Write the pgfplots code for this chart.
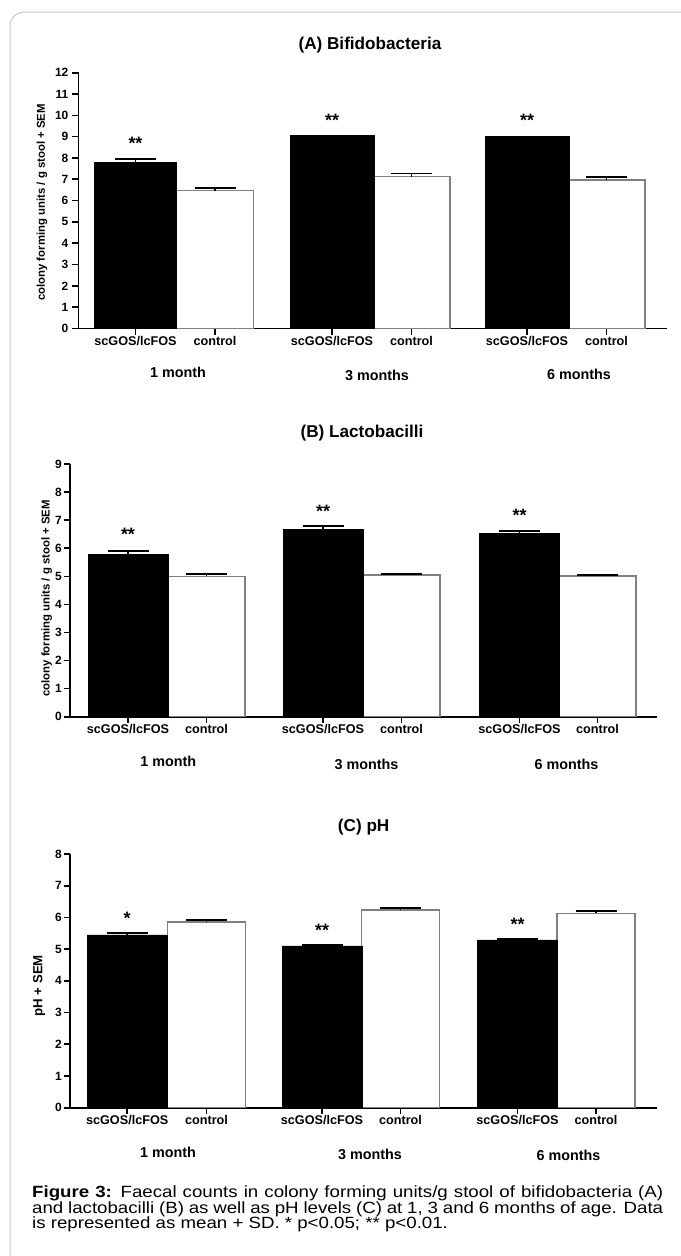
\documentclass[border=0pt]{standalone}
\usepackage{fontspec}
\setmainfont{Liberation Sans}
\newfontfamily\capfont[FakeStretch=1.15]{Liberation Sans}
\usepackage{pgfplots}
\pgfplotsset{compat=1.18}
\definecolor{barline}{RGB}{128,128,128}
\definecolor{frame}{RGB}{200,200,200}
\pgfplotsset{
  panel/.style={
    scale only axis, clip=false, enlargelimits=false,
    axis x line*=bottom, axis y line*=left,
    axis line style={line width=1.8bp, black, -},
    every outer x axis line/.append style={-},
    every outer y axis line/.append style={-},
    tick align=outside, major tick length=6bp,
    tick style={line width=1.6bp, black},
    ymin=0, anchor=south west,
    /pgf/number format/assume math mode=true,
    yticklabel={\textbf{\pgfmathprintnumber{\tick}}},
    yticklabel style={font=\fontsize{12}{12}\selectfont\bfseries, anchor=east, inner sep=0pt},
    xticklabel style={font=\fontsize{12.7}{12.7}\selectfont\bfseries, anchor=base, inner sep=0pt},
    ylabel style={anchor=center, inner sep=0pt},
    title style={anchor=base, inner sep=0pt, font=\fontsize{17.2}{17.2}\selectfont\bfseries},
  },
  errs/.style={
    error bars/y dir=plus, error bars/y explicit,
    error bars/error bar style={line width=1.8bp, black},
    error bars/error mark=|,
    error bars/error mark options={black, mark size=20.5bp, line width=1.8bp}},
  wbar/.style={ybar, bar shift=0pt, bar width=77, fill=white, draw=barline, line width=1.5bp, errs},
  bfill/.style={ybar, bar shift=0pt, bar width=82, fill=black, draw=black, line width=0.5bp},
  bbar/.style={bfill, errs},
}
\newcommand{\grp}{\fontsize{14.4}{14.4}\selectfont\bfseries}
\newcommand{\stars}{\fontsize{18}{18}\selectfont\bfseries}
\begin{document}
\begin{tikzpicture}
\useasboundingbox (0,0) rectangle (681bp,-1256bp);
\draw[frame, line width=1bp, rounded corners=14bp] (10bp,-1256bp) -- (10bp,-12bp) -- (681bp,-12bp);

% ---------- Panel A ----------
\begin{axis}[panel, at={(78.5bp,-328.5bp)}, width=588.5bp, height=255.8bp,
  xmin=78.5, xmax=667, ymax=12, ytick={0,1,...,12},
  yticklabel style={xshift=-4bp},
  xtick={135.5,215,332,411.5,527,606.5},
  xticklabels={scGOS/lcFOS,control,scGOS/lcFOS,control,scGOS/lcFOS,control},
  xticklabel style={yshift=-11bp},
  ylabel={\fontsize{11.4}{11.4}\selectfont\bfseries colony forming units / g stool + SEM},
  ylabel style={at={(axis description cs:-0.062,0.4926)}},
  title={(A) Bifidobacteria},
  title style={at={(axis description cs:0.4953,1.069)}}]
\addplot[wbar] coordinates {(215,6.47) +- (0,0.14) (411.5,7.13) +- (0,0.14) (606.5,6.96) +- (0,0.14)};
\addplot[bbar] coordinates {(135.5,7.80) +- (0,0.17)};
\addplot[bfill, bar width=84] coordinates {(332,9.07) (527,9.00)};
\node[font=\stars, yshift=-3.9bp] at (axis cs:135.5,8.85) {**};
\node[font=\stars, yshift=-3.9bp] at (axis cs:332,9.94) {**};
\node[font=\stars, yshift=-3.9bp] at (axis cs:527,9.94) {**};
\node[font=\grp, anchor=base, yshift=-48.5bp] at (axis cs:178,0) {1 month};
\node[font=\grp, anchor=base, yshift=-51.5bp] at (axis cs:377,0) {3 months};
\node[font=\grp, anchor=base, yshift=-50.5bp] at (axis cs:579,0) {6 months};
\end{axis}

% ---------- Panel B ----------
\begin{axis}[panel, at={(70bp,-716.7bp)}, width=587bp, height=252.7bp,
  xmin=70, xmax=657, ymax=9, ytick={0,1,...,9},
  yticklabel style={xshift=-2bp},
  xtick={128,206.5,323,401.5,519.5,597.5},
  xticklabels={scGOS/lcFOS,control,scGOS/lcFOS,control,scGOS/lcFOS,control},
  xticklabel style={yshift=-11bp},
  ylabel={\fontsize{11.4}{11.4}\selectfont\bfseries colony forming units / g stool + SEM},
  ylabel style={at={(axis description cs:-0.0397,0.4686)}},
  title={(B) Lactobacilli},
  title style={at={(axis description cs:0.4974,1.083)}}]
\addplot[wbar] coordinates {(206.5,5.00) +- (0,0.08) (401.5,5.05) +- (0,0.04) (597.5,5.02) +- (0,0.03)};
\addplot[bbar, bar width=80] coordinates {(128,5.78) +- (0,0.12) (323,6.67) +- (0,0.12) (519.5,6.53) +- (0,0.09)};
\node[font=\stars, yshift=-3.9bp] at (axis cs:128,6.62) {**};
\node[font=\stars, yshift=-3.9bp] at (axis cs:323,7.44) {**};
\node[font=\stars, yshift=-3.9bp] at (axis cs:519.5,7.30) {**};
\node[font=\grp, anchor=base, yshift=-50bp] at (axis cs:168.3,0) {1 month};
\node[font=\grp, anchor=base, yshift=-52.3bp] at (axis cs:366.5,0) {3 months};
\node[font=\grp, anchor=base, yshift=-52.3bp] at (axis cs:566.5,0) {6 months};
\end{axis}

% ---------- Panel C ----------
\begin{axis}[panel, at={(70bp,-1107.7bp)}, width=587bp, height=253.7bp,
  xmin=70, xmax=657, ymax=8, ytick={0,1,...,8},
  yticklabel style={xshift=-2bp},
  xtick={127.2,206.5,322,400.5,517.5,596},
  xticklabels={scGOS/lcFOS,control,scGOS/lcFOS,control,scGOS/lcFOS,control},
  xticklabel style={yshift=-11bp},
  ylabel={\fontsize{13.3}{13.3}\selectfont\bfseries pH + SEM},
  ylabel style={at={(axis description cs:-0.0528,0.4805)}},
  title={(C) pH},
  title style={at={(axis description cs:0.5003,1.067)}}]
\addplot[wbar, bar width=78] coordinates {(206.5,5.85) +- (0,0.07) (400.5,6.24) +- (0,0.07) (596,6.13) +- (0,0.08)};
\addplot[bbar, bar width=80] coordinates {(127.2,5.45) +- (0,0.06) (322,5.10) +- (0,0.04) (517.5,5.29) +- (0,0.02)};
\node[font=\stars, yshift=-3.9bp] at (axis cs:127.2,6.11) {*};
\node[font=\stars, yshift=-3.9bp] at (axis cs:322,5.71) {**};
\node[font=\stars, yshift=-3.9bp] at (axis cs:517.5,5.90) {**};
\node[font=\grp, anchor=base, yshift=-50bp] at (axis cs:168,0) {1 month};
\node[font=\grp, anchor=base, yshift=-51.3bp] at (axis cs:370,0) {3 months};
\node[font=\grp, anchor=base, yshift=-52.3bp] at (axis cs:568.5,0) {6 months};
\end{axis}

% ---------- Caption ----------
\begin{scope}[every node/.style={anchor=base west, inner sep=0pt, font=\capfont\fontsize{16.3}{16.3}\selectfont}]
\node at (32bp,-1197.7bp) {\makebox[631bp][s]{\textbf{Figure 3:} Faecal counts in colony forming units/g stool of bifidobacteria (A)}};
\node at (32bp,-1213bp) {\makebox[631bp][s]{and lactobacilli (B) as well as pH levels (C) at 1, 3 and 6 months of age. Data}};
\node at (32bp,-1228.3bp) {is represented as mean + SD. * p<0.05; ** p<0.01.};
\end{scope}
\end{tikzpicture}
\end{document}
